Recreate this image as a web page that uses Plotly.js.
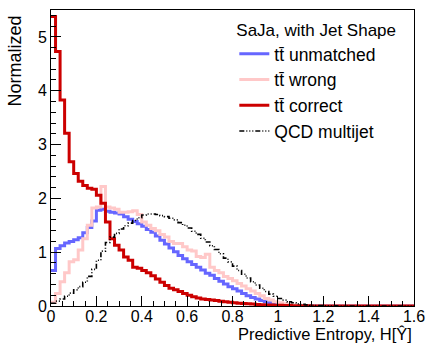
<!DOCTYPE html>
<html>
<head>
<meta charset="utf-8">
<script src="https://cdn.plot.ly/plotly-3.0.1.min.js"></script>
<style>html,body{margin:0;padding:0;background:#fff;}#chart{width:429px;height:343px;}</style>
</head>
<body>
<div id="chart"></div>
<script>
// Bin edges: 80 bins of width 0.02 from 0 to 1.6
const binWidth = 0.02;
const nBins = 80;
const binEdges = Array.from({length: nBins + 1}, (_, i) => +(i * binWidth).toFixed(2));

const seriesNames = ["tt\u0304 unmatched", "tt\u0304 wrong", "tt\u0304 correct", "QCD multijet"];

const unmatched = [0.66,1.07,1.12,1.17,1.20,1.23,1.27,1.36,1.46,1.58,
  1.78,1.80,1.76,1.74,1.73,1.71,1.66,1.61,1.57,1.53,
  1.48,1.42,1.37,1.30,1.22,1.15,1.08,1.01,0.94,0.88,
  0.82,0.77,0.72,0.67,0.61,0.57,0.51,0.46,0.41,0.36,
  0.32,0.28,0.23,0.19,0.16,0.13,0.10,0.08,0.06,0.04,
  0.03,0.02,0.015,0.01,0.005,0,0,0,0,0,
  0,0,0,0,0,0,0,0,0,0,
  0,0,0,0,0,0,0,0,0,0];

const wrong = [0.07,0.23,0.45,0.62,0.82,0.86,1.04,1.25,1.50,1.82,
  1.84,2.22,1.84,1.82,1.80,1.74,1.74,1.75,1.77,1.70,
  1.56,1.50,1.44,1.40,1.33,1.28,1.20,1.16,1.16,1.10,
  1.04,1.02,0.92,0.90,0.96,0.72,0.66,0.62,0.55,0.51,
  0.47,0.42,0.37,0.32,0.28,0.23,0.19,0.14,0.11,0.08,
  0.06,0.04,0.03,0.02,0.01,0.005,0,0,0,0,
  0,0,0,0,0,0,0,0,0,0,
  0,0,0,0,0,0,0,0,0,0];

const correct = [5.38,4.73,3.83,3.21,2.68,2.46,2.32,2.24,2.19,2.17,
  2.06,1.91,1.56,1.25,1.13,1.04,0.91,0.85,0.72,0.70,
  0.66,0.62,0.56,0.50,0.44,0.38,0.33,0.30,0.27,0.23,
  0.20,0.17,0.15,0.13,0.12,0.11,0.10,0.09,0.08,0.07,
  0.06,0.05,0.045,0.04,0.035,0.03,0.025,0.02,0.02,0.015,
  0.012,0.01,0.008,0.006,0.005,0.004,0.003,0.002,0,0,
  0,0,0,0,0,0,0,0,0,0,
  0,0,0,0,0,0,0,0,0,0];

const qcd = [0.05,0.09,0.13,0.18,0.24,0.30,0.36,0.44,0.55,0.68,
  0.85,1.02,1.18,1.28,1.35,1.43,1.49,1.54,1.59,1.64,
  1.69,1.71,1.71,1.70,1.68,1.66,1.63,1.60,1.55,1.50,
  1.45,1.39,1.33,1.26,1.19,1.12,1.05,0.97,0.89,0.82,
  0.74,0.66,0.59,0.52,0.45,0.39,0.33,0.27,0.22,0.18,
  0.14,0.11,0.08,0.06,0.04,0.03,0.02,0.015,0.01,0.007,
  0.005,0.003,0.002,0,0,0,0,0,0,0,
  0,0,0,0,0,0,0,0,0,0];

const xTickVals = [0,0.2,0.4,0.6,0.8,1,1.2,1.4,1.6];
const xTickText = ["0","0.2","0.4","0.6","0.8","1","1.2","1.4","1.6"];
const yTickVals = [0,1,2,3,4,5];
const yTickText = ["0","1","2","3","4","5"];

function stepTrace(vals, name, color, width, dash) {
  return {
    x: binEdges,
    y: vals.concat([vals[vals.length - 1]]),
    type: 'scatter', mode: 'lines', name: name,
    line: {shape: 'hv', color: color, width: width, dash: dash || 'solid'},
    hoverinfo: 'skip'
  };
}

const data = [
  stepTrace(unmatched, seriesNames[0], '#6666ff', 3),
  stepTrace(wrong, seriesNames[1], '#ffc8c8', 3),
  stepTrace(correct, seriesNames[2], '#cc0000', 3),
  stepTrace(qcd, seriesNames[3], '#000000', 1.6, '5px,2px,1px,2px,1px,2px,1px,2px')
];

const FONT = 'Arial, Liberation Sans, sans-serif';

const layout = {
  width: 429, height: 343,
  margin: {l: 51, r: 15, t: 10, b: 37, pad: 0},
  paper_bgcolor: '#fff', plot_bgcolor: '#fff',
  font: {family: FONT, size: 16, color: '#000'},
  showlegend: true,
  legend: {
    x: 0.505, xanchor: 'left', y: 0.987, yanchor: 'top',
    bgcolor: 'rgba(0,0,0,0)', borderwidth: 0,
    font: {family: FONT, size: 17.5, color: '#000'},
    title: {text: 'SaJa, with Jet Shape', font: {family: FONT, size: 17, color: '#000'}},
    tracegroupgap: 0
  },
  xaxis: {
    range: [0, 1.6], showgrid: false, zeroline: false,
    showline: true, mirror: true, linecolor: '#000', linewidth: 1,
    ticks: 'inside', ticklen: 10, tickwidth: 1, tickcolor: '#000',
    tickvals: xTickVals, ticktext: xTickText, ticklabelstandoff: -4,
    tickfont: {family: FONT, size: 16, color: '#000'},
    minor: {dtick: 0.05, ticks: 'inside', ticklen: 5, tickwidth: 1, tickcolor: '#000', showgrid: false}
  },
  yaxis: {
    range: [0, 5.5], showgrid: false, zeroline: false,
    showline: true, mirror: true, linecolor: '#000', linewidth: 1,
    ticks: 'inside', ticklen: 10, tickwidth: 1, tickcolor: '#000',
    tickvals: yTickVals, ticktext: yTickText,
    tickfont: {family: FONT, size: 16, color: '#000'},
    minor: {dtick: 0.2, ticks: 'inside', ticklen: 5, tickwidth: 1, tickcolor: '#000', showgrid: false}
  },
  annotations: [
    {text: 'Predictive Entropy, H[\u0176]', xref: 'paper', yref: 'paper', x: 1, y: 0,
     xanchor: 'right', yanchor: 'top', yshift: -17, showarrow: false,
     font: {family: FONT, size: 16.5, color: '#000'}},
    {text: 'Normalized', xref: 'paper', yref: 'paper', x: 0, y: 1,
     xanchor: 'center', yanchor: 'top', xshift: -37, yshift: -4, textangle: -90, showarrow: false,
     font: {family: FONT, size: 18, color: '#000'}}
  ]
};

Plotly.newPlot('chart', data, layout, {staticPlot: true, displayModeBar: false});
</script>
</body>
</html>
